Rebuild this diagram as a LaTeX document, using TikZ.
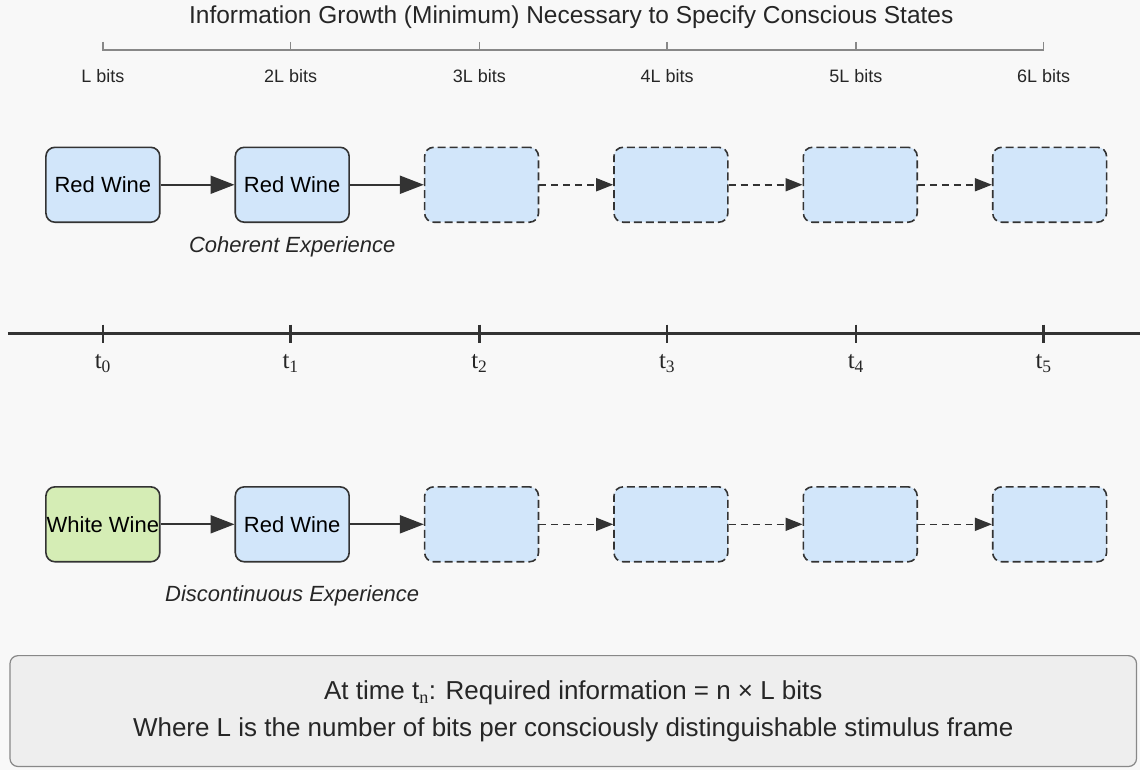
\documentclass[tikz,border=0pt]{standalone}
\usepackage{fontspec}
\setmainfont{Liberation Sans}
\newfontfamily\serif{Liberation Serif}
\usetikzlibrary{arrows.meta}
\usetikzlibrary{positioning}
\definecolor{wineblue}{HTML}{D2E6FA}
\definecolor{winegreen}{HTML}{D5EDB5}
\definecolor{darkline}{HTML}{333333}
\definecolor{bggray}{HTML}{F8F8F8}
\definecolor{notegray}{HTML}{EEEEEE}
\definecolor{scalegray}{HTML}{888888}
\tikzset{
    frame/.style={
           rectangle,
           rounded corners=9pt,
           draw=darkline, line width=1.6pt,
           fill=wineblue,
           minimum width=114pt,
           minimum height=75pt,
           inner sep=0pt,
           text centered,
           font=\fontsize{22}{26}\selectfont,
           },
    open frame/.style={frame, dash pattern=on 8pt off 4pt},
    flow/.style={-{Triangle[length=24pt,width=18pt]}, line width=2pt, draw=darkline},
    open flow/.style={-{Triangle[length=17pt,width=13pt]}, line width=1.6pt,
           draw=darkline, dash pattern=on 7pt off 5pt},
    caption/.style={font=\fontsize{22}{26}\selectfont\itshape, text=black!85},
    bitslabel/.style={font=\fontsize{18}{22}\selectfont, text=black!85},
    timelabel/.style={font=\fontsize{25}{28}\serif, text=black!85},
}

\begin{document}
\begin{tikzpicture}[x=1pt,y=-1pt]

 % background, fixes the size of the page
 \fill[bggray] (0,0) rectangle (1141,771);

 % title and information scale
 \node[font=\fontsize{24.5}{28}\selectfont, text=black!85] (Title) at (572,17)
  {Information Growth (Minimum) Necessary to Specify Conscious States};
 \draw[scalegray, line width=1.3pt] (103,42) -- (103,50) -- (1045,50) -- (1045,42);
 \foreach \x/\lbl in {103/L bits,291/2L bits,480/3L bits,668/4L bits,857/5L bits,1045/6L bits} {
  \draw[scalegray, line width=1.3pt] (\x,42) -- (\x,50);
  \node[bitslabel] at (\x,76) {\lbl};
 }

 % Coherent row: frames at t0 ... t5
 \node[frame] (Coherent 0) at (103,185) {Red Wine};
 \node[frame, right=74pt of Coherent 0] (Coherent 1) {Red Wine};
 \node[open frame, right=74pt of Coherent 1] (Coherent 2) {};
 \node[open frame, right=74pt of Coherent 2] (Coherent 3) {};
 \node[open frame, right=74pt of Coherent 3] (Coherent 4) {};
 \node[open frame, right=74pt of Coherent 4] (Coherent 5) {};
 \node[caption, below=10pt of Coherent 1] (Coherent Text) {Coherent Experience};

 \path (Coherent 0) edge[flow] (Coherent 1)
 (Coherent 1) edge[flow] (Coherent 2)
 (Coherent 2) edge[open flow] (Coherent 3)
 (Coherent 3) edge[open flow] (Coherent 4)
 (Coherent 4) edge[open flow] (Coherent 5);

 % time axis
 \draw[darkline, line width=3pt] (8,334) -- (1141,334);
 \foreach \i/\x in {0/103,1/291,2/480,3/668,4/857,5/1045} {
  \draw[darkline, line width=2.5pt] (\x,325) -- (\x,343);
  \node[timelabel] (t\i) at (\x,364) {t\textsubscript{\i}};
 }

 % Discontinuous row: starts on a different stimulus
 \node[frame, fill=winegreen] (Jump 0) at (103,525) {\makebox[0pt]{White Wine}};
 \node[frame, right=74pt of Jump 0] (Jump 1) {Red Wine};
 \node[open frame, right=74pt of Jump 1] (Jump 2) {};
 \node[open frame, right=74pt of Jump 2] (Jump 3) {};
 \node[open frame, right=74pt of Jump 3] (Jump 4) {};
 \node[open frame, right=74pt of Jump 4] (Jump 5) {};
 \node[caption, below=20pt of Jump 1] (Jump Text) {Discontinuous Experience};

 \path (Jump 0) edge[flow] (Jump 1)
 (Jump 1) edge[flow] (Jump 2)
 (Jump 2) edge[open flow] (Jump 3)
 (Jump 3) edge[open flow] (Jump 4)
 (Jump 4) edge[open flow] (Jump 5);

 % note at the bottom
 \node[rectangle, rounded corners=8pt, draw=scalegray, line width=1.2pt, fill=notegray,
  minimum width=1128pt, minimum height=111pt, align=center,
  font=\fontsize{26}{37}\selectfont, text=black!85] (Note) at (574,712)
 {At time t\textsubscript{\serif n}: Required information = n × L bits\\
  Where L is the number of bits per consciously distinguishable stimulus frame};

\end{tikzpicture}
\end{document}
